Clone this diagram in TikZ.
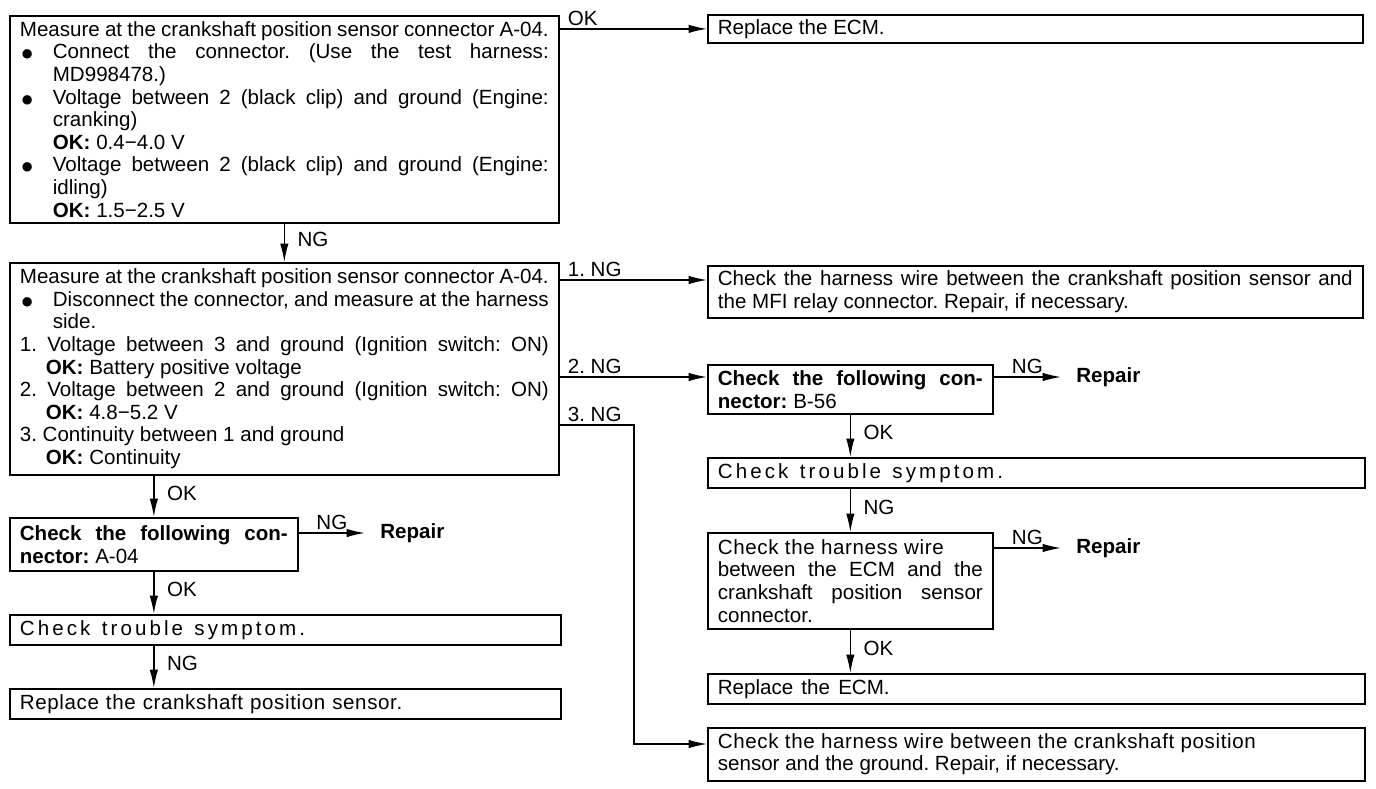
\documentclass[tikz,border=0pt]{standalone}
\usepackage{fontspec}
\setmainfont{Liberation Sans}
\newfontfamily\symfont{DejaVu Sans}
\usetikzlibrary{arrows.meta}
\newcommand{\bitem}{\par\noindent\hangindent=0.66cm\hangafter=1\makebox[0.66cm][l]{\hspace{0.04cm}\raisebox{0.05em}{\symfont\fontsize{7}{7}\selectfont ●}}}
\newcommand{\nitem}{\par\noindent\hangindent=0.52cm\hangafter=1\relax}
\newcommand{\txtfont}{\fontsize{11.7}{12.86}\selectfont\frenchspacing}
\newcommand{\widetxt}{\addfontfeature{LetterSpace=15}\spaceskip=0.55em plus 0.2em\relax}
\newcommand{\looser}[1]{{\addfontfeature{LetterSpace=3}#1}}
\begin{document}
\begin{tikzpicture}[x=0.02cm,y=-0.02cm,
  box/.style={draw,line width=1pt,anchor=north west,inner xsep=0.2cm,inner ysep=0.06cm,align=justify,font=\txtfont},
  arr/.style={-{Latex[length=0.37cm,width=0.17cm]},line width=0.8pt},
  lab/.style={font=\txtfont,inner sep=0.05cm},
  repbox/.style={font=\txtfont\bfseries,anchor=west,inner xsep=0.3cm,inner ysep=0.05cm}]
\useasboundingbox (0,0) rectangle (1376,788);
% left column
\node[box,text width=10.58cm,minimum height=4.14cm] (b1) at (9,15) {\noindent Measure at the crankshaft position sensor connector A-04.
\bitem Connect the connector. (Use the test harness:\linebreak MD998478.)
\bitem Voltage between 2 (black clip) and ground (Engine:\linebreak cranking)\newline\textbf{OK:} 0.4−4.0 V
\bitem Voltage between 2 (black clip) and ground (Engine:\linebreak idling)\newline\textbf{OK:} 1.5−2.5 V\par};
\node[box,text width=10.58cm,minimum height=4.24cm] (b2) at (9,262) {\noindent Measure at the crankshaft position sensor connector A-04.
\bitem Disconnect the connector, and measure at the harness\linebreak side.
\nitem 1. Voltage between 3 and ground (Ignition switch: ON)\linebreak\textbf{OK:} Battery positive voltage
\nitem 2. Voltage between 2 and ground (Ignition switch: ON)\linebreak\textbf{OK:} 4.8−5.2 V
\nitem 3. Continuity between 1 and ground\newline\textbf{OK:} Continuity\par};
\node[box,text width=5.36cm,minimum height=1.06cm] (c04) at (9,517) {\noindent\textbf{Check the following con-\linebreak nector:} A-04};
\node[box,text width=10.62cm,minimum height=0.6cm] (ts1) at (9,614) {\noindent\widetxt Check trouble symptom.};
\node[box,text width=10.62cm,minimum height=0.6cm] (rcs) at (9,688) {\noindent\spaceskip=0.34em\relax\looser{Replace the crankshaft position sensor.}};
\node[repbox] (rp1) at (365,533) {Repair};
% right column
\node[box,text width=12.7cm,minimum height=0.56cm] (ecm1) at (707,14) {\noindent Replace the ECM.};
\node[box,text width=12.7cm,minimum height=1.04cm] (h1) at (707,265) {\noindent Check the harness wire between the crankshaft position sensor and\linebreak the MFI relay connector. Repair, if necessary.};
\node[box,text width=5.3cm,minimum height=0.98cm] (c56) at (707,364) {\noindent\textbf{Check the following con-\linebreak nector:} B-56};
\node[box,text width=12.74cm,minimum height=0.6cm] (ts2) at (707,457) {\noindent\widetxt Check trouble symptom.};
\node[box,text width=5.3cm,minimum height=1.92cm] (hw) at (707,532) {\noindent\looser{Check the harness wire}\newline between the ECM and the\linebreak crankshaft position sensor\linebreak connector.};
\node[box,text width=12.74cm,minimum height=0.6cm] (ecm2) at (707,673) {\noindent\spaceskip=0.4em\relax Replace the ECM.};
\node[box,text width=12.74cm,minimum height=1.06cm] (h3) at (707,727) {\noindent\looser{Check the harness wire between the crankshaft position}\newline sensor and the ground. Repair, if necessary.};
\node[repbox] (rp2) at (1061,377) {Repair};
\node[repbox] (rp3) at (1061,548) {Repair};
\coordinate (j3) at (634,425);
% connectors
\draw[arr] (b1.east |- ecm1.west) -- node[lab,pos=0,anchor=south west,xshift=0.1cm]{OK} (ecm1.west);
\draw[arr] (b1.south) -- node[lab,midway,right,xshift=0.2cm,yshift=0.06cm]{NG} (b2.north);
\draw[arr] (b2.east |- 0,280) -- node[lab,pos=0,anchor=south west,xshift=0.1cm]{1. NG} (h1.west |- 0,280);
\draw[arr] (b2.east |- rp2.west) -- node[lab,pos=0,anchor=south west,xshift=0.1cm]{2. NG} (c56.west |- rp2.west);
\draw[arr] (b2.east |- j3) -- node[lab,pos=0,anchor=south west,xshift=0.1cm]{3. NG} (j3) |- (h3.west |- 0,744);
\draw[arr] (c04.north |- b2.south) -- node[lab,midway,right,xshift=0.2cm,yshift=0.06cm]{OK} (c04.north);
\draw[arr] (c04.east |- rp1.west) -- node[lab,midway,above]{NG} (rp1.west);
\draw[arr] (c04.south) -- node[lab,midway,right,xshift=0.2cm,yshift=0.06cm]{OK} (c04.south |- ts1.north);
\draw[arr] (c04.south |- ts1.south) -- node[lab,midway,right,xshift=0.2cm,yshift=0.06cm]{NG} (c04.south |- rcs.north);
\draw[arr] (c56.east |- rp2.west) -- node[lab,midway,above]{NG} (rp2.west);
\draw[arr] (c56.south) -- node[lab,midway,right,xshift=0.2cm,yshift=0.06cm]{OK} (c56.south |- ts2.north);
\draw[arr] (hw.north |- ts2.south) -- node[lab,midway,right,xshift=0.2cm,yshift=0.06cm]{NG} (hw.north);
\draw[arr] (hw.east |- rp3.west) -- node[lab,midway,above]{NG} (rp3.west);
\draw[arr] (hw.south) -- node[lab,midway,right,xshift=0.2cm,yshift=0.06cm]{OK} (hw.south |- ecm2.north);
\end{tikzpicture}
\end{document}
